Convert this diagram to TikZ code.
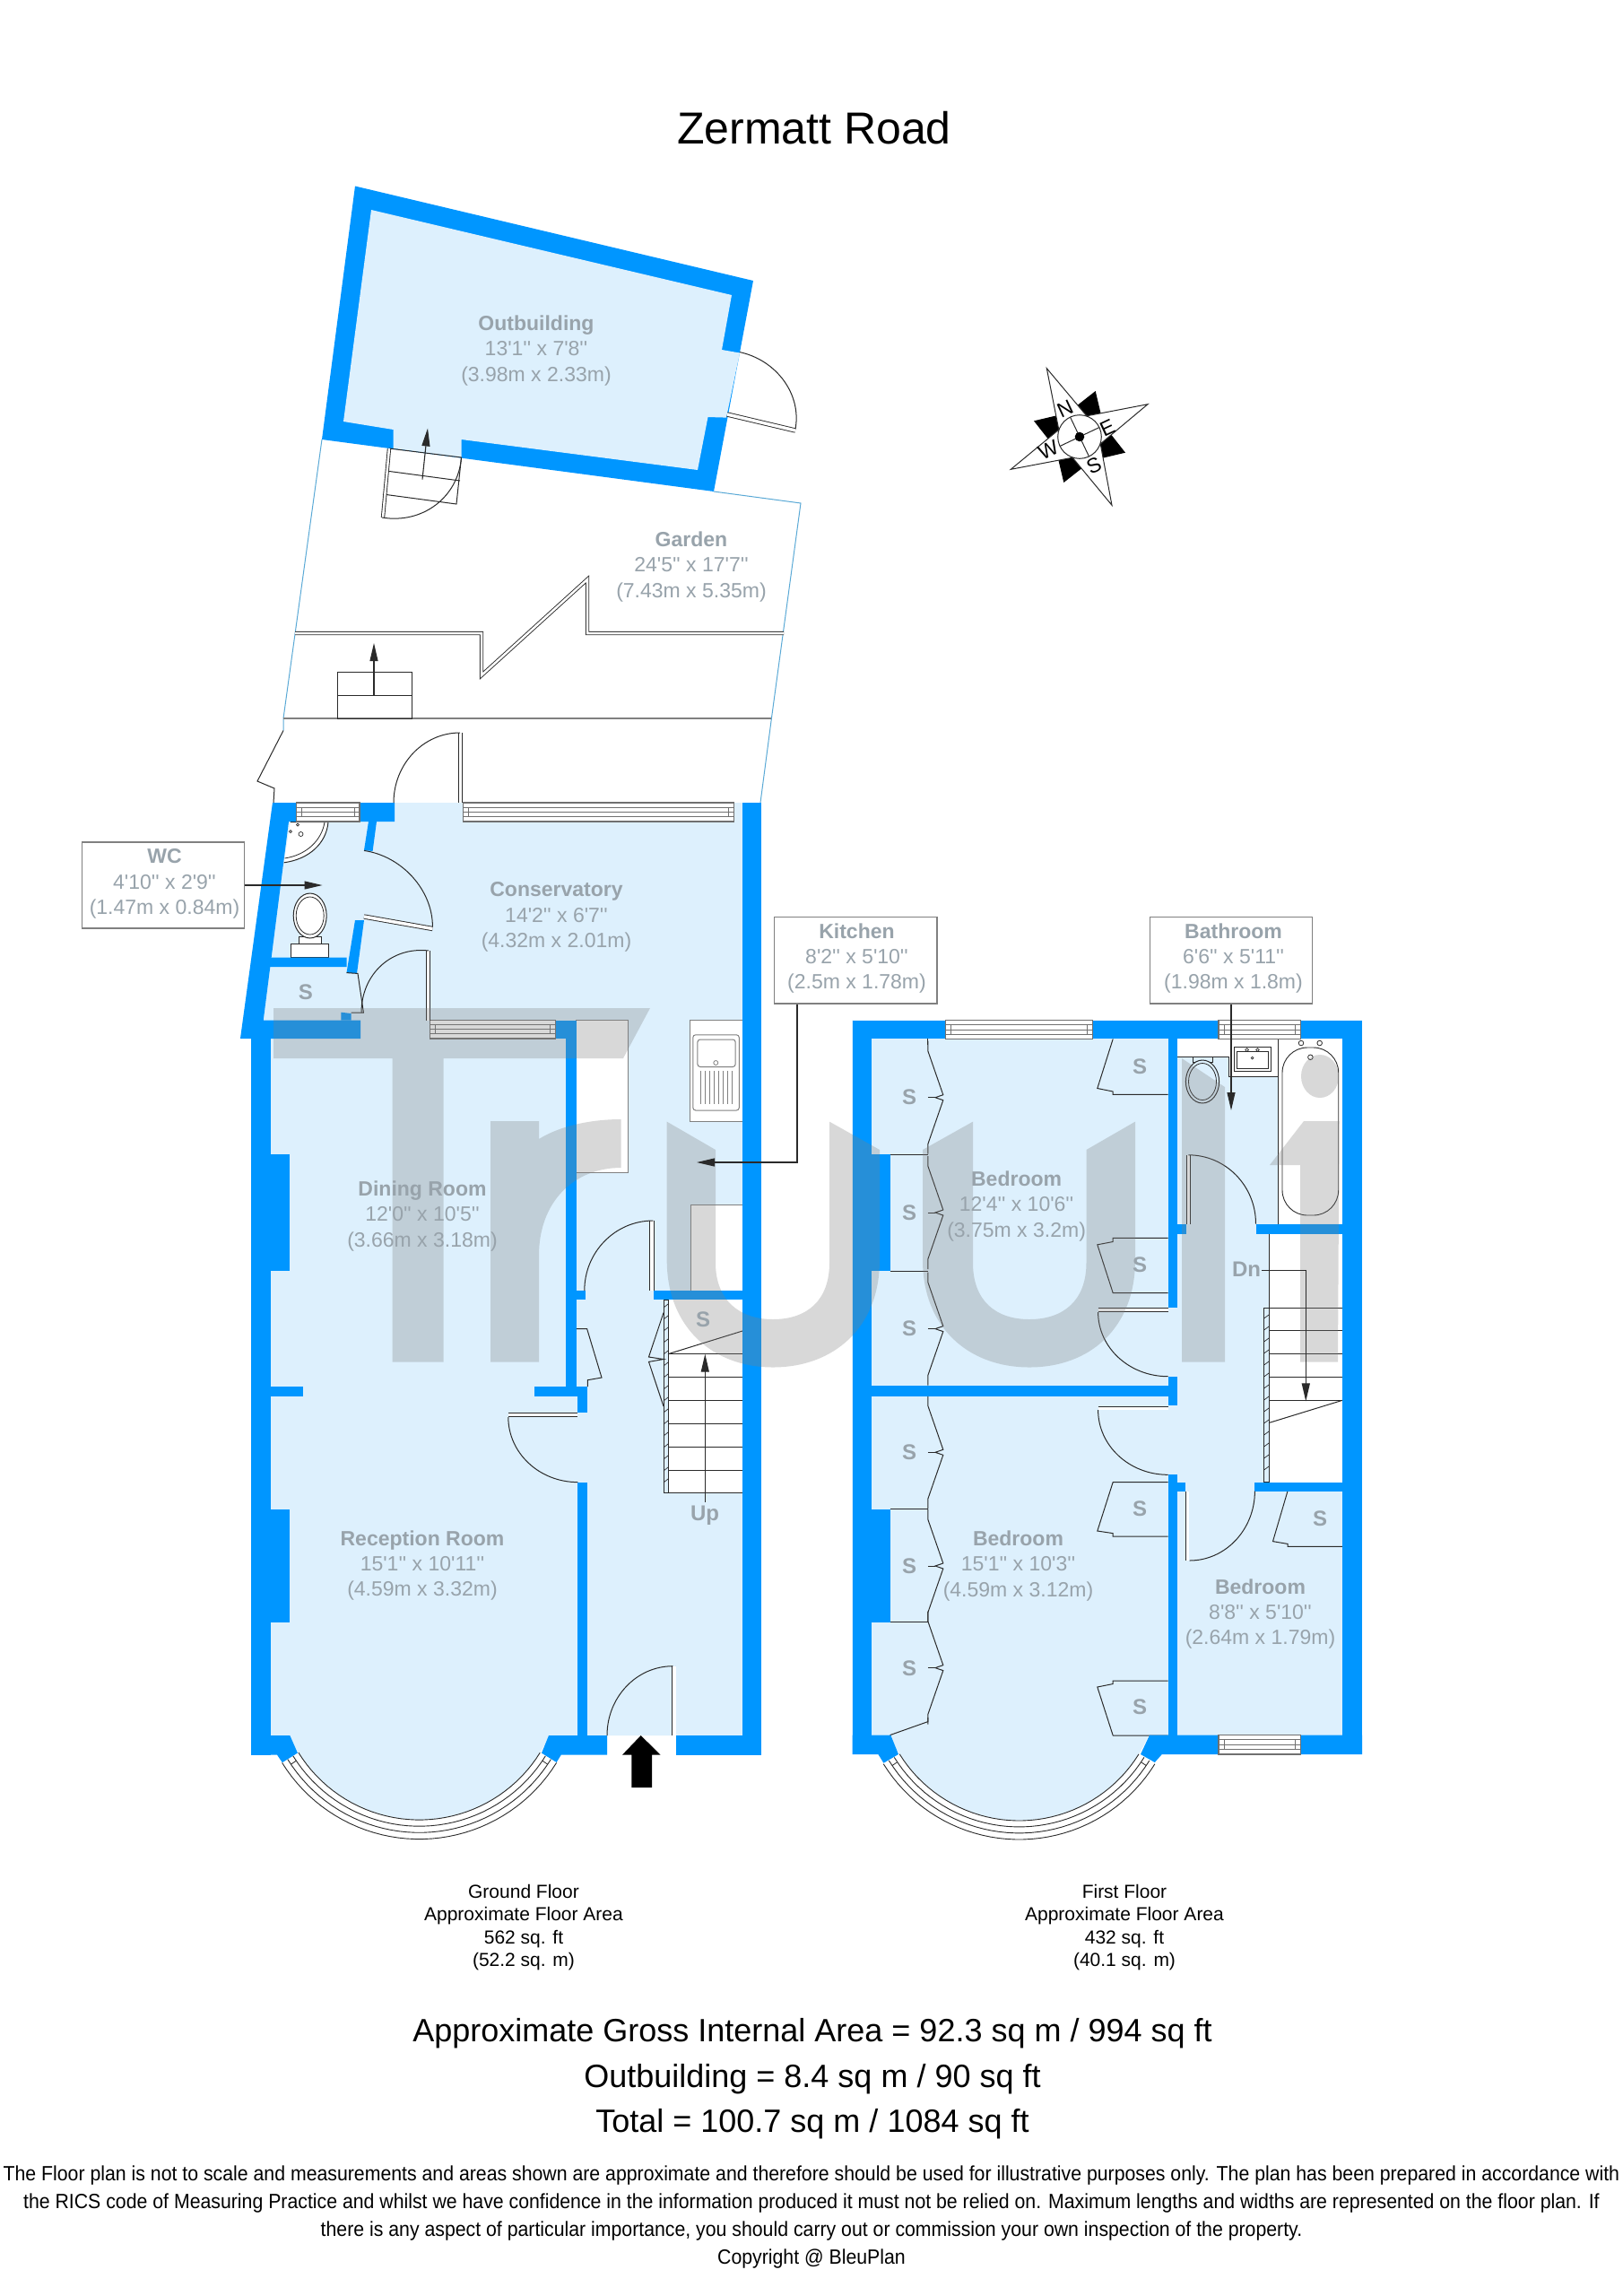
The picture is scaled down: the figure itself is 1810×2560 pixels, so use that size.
\documentclass[tikz,border=0pt]{standalone}
\usepackage{fontspec}
\setmainfont{Liberation Sans}[Ligatures=TeXOff]
\usetikzlibrary{arrows.meta,calc}
\definecolor{wallblue}{HTML}{0096FF}
\definecolor{floorblue}{HTML}{DDF0FD}
\definecolor{labelgrey}{HTML}{98A3AB}
\definecolor{linedark}{HTML}{2A2A2A}
\definecolor{boxgrey}{HTML}{808080}
\definecolor{wingrey}{HTML}{707070}
\definecolor{gardenline}{HTML}{5AA9D6}
\tikzset{
  wall/.style={fill=wallblue},
  floorarea/.style={fill=floorblue},
  fine/.style={draw=linedark,line width=1pt},
  leaf/.style={draw=linedark,line width=0.9pt,double=white,double distance=3.5pt},
  garden/.style={draw=gardenline,line width=1pt},
  fixture/.style={fill=white,draw=boxgrey,line width=1pt},
  conn/.style={draw=linedark,line width=1.1pt,-{Triangle[length=20pt,width=9pt]}},
  roomtext/.style={text=labelgrey,align=center,font=\fontsize{23}{28.4}\selectfont,inner sep=0pt},
  lblbox/.style={draw=boxgrey,line width=1.5pt,fill=white,inner sep=0pt},
  stext/.style={text=labelgrey,font=\fontsize{24}{28}\selectfont\bfseries,inner sep=0pt},
  blacktext/.style={text=black,align=center,inner sep=0pt},
  brand/.style={fill=gray,fill opacity=0.3}
}
\newcommand{\dArc}[6]{\draw[fine] (#3,#4) .. controls ({#3+0.5523*(#5-#1)},{#4+0.5523*(#6-#2)}) and ({#5+0.5523*(#3-#1)},{#6+0.5523*(#4-#2)}) .. (#5,#6);}
\newcommand{\hWin}[4]{%
  \fill[white] (#1,#3) rectangle (#2,#4);
  \draw[draw=wingrey,line width=1.1pt] (#1,#3) rectangle (#2,#4);
  \foreach \ff in {0.25,0.5,0.75}{\draw[draw=wingrey,line width=1pt] (#1,{#3+\ff*(#4-#3)}) -- (#2,{#3+\ff*(#4-#3)});}
  \draw[draw=wingrey,line width=1pt] ({#1+6},{#3+0.25*(#4-#3)}) -- ({#1+6},{#3+0.75*(#4-#3)});
  \draw[draw=wingrey,line width=1pt] ({#2-6},{#3+0.25*(#4-#3)}) -- ({#2-6},{#3+0.75*(#4-#3)});
}
\newcommand{\roomLabel}[6]{\node[roomtext] (#1) at (#2,#3) {\textbf{#4}\\#5\\#6};}
\newcommand{\wardrobe}[1]{%
  \draw[fine] (1034.8,{#1-63}) -- (1034.8,{#1-52}) -- (1051.8,{#1-3}) -- (1043,{#1}) -- (1051.8,{#1+3}) -- (1034.8,{#1+52}) -- (1034.8,{#1+63});
  \draw[fine] (1034.8,{#1}) -- (1043,{#1});
}
\newcommand{\bayWin}[4]{% cx cy rin rout
  \fill[white] plot[domain=31.8:148.2,samples=40] ({#1+#4*cos(\x)},{#2+#4*sin(\x)}) -- plot[domain=148.2:31.8,samples=40] ({#1+#3*cos(\x)},{#2+#3*sin(\x)}) -- cycle;
  \foreach \rr in {0,0.33,0.66,1}{
    \draw[fine,line width=0.9pt] plot[domain=31.8:148.2,samples=40] ({#1+(#3+\rr*(#4-#3))*cos(\x)},{#2+(#3+\rr*(#4-#3))*sin(\x)});
  }
  \foreach \aa in {34,146}{
    \draw[fine,line width=0.8pt] ({#1+(#3+0.33*(#4-#3))*cos(\aa)},{#2+(#3+0.33*(#4-#3))*sin(\aa)}) -- ({#1+(#3+0.66*(#4-#3))*cos(\aa)},{#2+(#3+0.66*(#4-#3))*sin(\aa)});
  }
}
\begin{document}
\begin{tikzpicture}[x=1pt,y=-1pt]
\useasboundingbox (0,0) rectangle (1810,2560);
\fill[white] (0,0) rectangle (1810,2560);

% ---------- Garden
\draw[garden] (359,490) -- (316,801) -- (316,814.5);
\draw[fine] (316,814.5) -- (287,871) -- (306,879) -- (305,895);
\draw[garden] (796,548) -- (893,561) -- (860.4,801) -- (848,895);
\draw[draw=linedark,line width=0.9pt,double=white,double distance=2.5pt] (329,706) -- (537,706) -- (537,753) -- (655,646) -- (655,706) -- (874,706);
\draw[draw=boxgrey,line width=2pt] (316,801) -- (860.4,801);
\draw[fine] (376,749) rectangle (459,801);
\draw[fine] (376,775) -- (459,775);
\coordinate (gardenA) at (417,775);
\coordinate (gardenB) at (417,717);
\draw[conn] (gardenA) -- (gardenB);

% ---------- Outbuilding
\fill[wall] (396,207.5) -- (840,313) -- (796,548) -- (359,490) -- cycle;
\fill[floorblue] (414,234) -- (816,329) -- (805,390) -- (825,393.5) -- (810,465.6) -- (789.5,465) -- (778,524) -- (514.5,490) -- (514.5,510) -- (438.6,500) -- (438.6,479) -- (383,470) -- cycle;
\draw[leaf] (811,462) -- (887,480);
\dArc{812}{462}{887}{478.4}{825}{392.6}
\draw[fine] (434,500) -- (514.5,510) -- (509,562) -- (427,551);
\draw[fine] (430.5,525) -- (513,536);
\draw[leaf,double distance=2.5pt] (434,500) -- (427,577);
\dArc{433}{497}{514.5}{510.6}{426}{577}
\coordinate (outA) at (471,534.5);
\coordinate (outB) at (477,477.5);
\draw[conn] (outA) -- (outB);

% ---------- Ground floor: floor
\fill[floorblue] (304,895) -- (848,895) -- (848,1935) -- (612,1935) -- plot[domain=24:156,samples=50] ({467.6+158.5*cos(\x)},{1870.6+158.5*sin(\x)}) -- (301,1935) -- (301,1158) -- (268,1158) -- cycle;
% fixtures
\draw[fixture] (642.6,1137.7) rectangle (700.3,1307);
\draw[fixture] (769,1137.7) rectangle (828,1250.6);
\draw[draw=boxgrey,line width=1pt,rounded corners=3pt] (772.8,1153.8) rectangle (824.3,1238);
\draw[draw=boxgrey,line width=1pt,rounded corners=3pt] (777.9,1159) rectangle (820.2,1189.5);
\draw[draw=boxgrey,line width=0.8pt] (798.3,1185) circle (2.5);
\foreach \xx in {781,786,...,818}{\draw[draw=boxgrey,line width=0.8pt] (\xx,1194) -- (\xx,1230.5);}
\draw[fixture] (770.2,1343.5) rectangle (828,1439);
% stairs ground
\fill[white] (745,1449) rectangle (828,1664.8);
\draw[fine] (745,1509.7) -- (828,1484);
\foreach \yy in {1509.7,1535.3,1561.5,1587.2,1613,1639,1664.8}{\draw[fine] (745,\yy) -- (828,\yy);}
\draw[fine] (740,1449) rectangle (745,1664.8);
\foreach \yy in {1458,1471,...,1660}{\draw[fine,line width=0.7pt] (740,\yy) -- (745,{\yy-4});}
\draw[fine] (740,1463.6) -- (723.5,1513) -- (740,1515.5) -- (723.5,1518.4) -- (740,1568);
\coordinate (upA) at (786.3,1674.5);
\coordinate (upB) at (786.3,1509.7);
\draw[conn] (upA) -- (upB);
% WC fixtures
\fill[white] (323.8,916.7) -- (366,916.7) .. controls (364,940) and (345,958) .. (316.6,961.8) -- cycle;
\draw[fine] (323.8,916.7) -- (366,916.7) .. controls (364,940) and (345,958) .. (316.6,961.8);
\draw[fine,line width=0.8pt] (362,916.7) .. controls (359,936) and (343,953) .. (317.5,957);
\draw[fine,line width=0.7pt] (335.5,930) circle (2.5);
\draw[fine,line width=0.7pt] (332,919.5) circle (1.5);
\draw[fine,line width=0.7pt] (324,927) circle (1.5);
\draw[fixture,draw=linedark] (333,1044) rectangle (358.5,1052);
\draw[fixture,draw=linedark] (324.3,1052) rectangle (366.6,1067.6);
\draw[fine,fill=white] (345.7,1021) ellipse [x radius=18.5,y radius=25];
\draw[fine,line width=0.8pt] (345.7,1021) ellipse [x radius=15.5,y radius=21];

% ---------- Ground floor: walls
\fill[wall] (304,895) -- (440,895) -- (440,916) -- (322,916) -- (293.7,1137.7) -- (402,1137.7) -- (402,1158) -- (268,1158) -- cycle;
\fill[wall] (301,1067.6) -- (386.5,1067.6) -- (386.5,1078) -- (300,1078) -- cycle;
\fill[wall] (411,916) -- (420,916) -- (415.6,949) -- (406,948) -- cycle;
\fill[wall] (396,1026) -- (406,1026) -- (398,1085.4) -- (386.5,1084.6) -- cycle;
\fill[wall] (380.4,1128.7) -- (391.6,1130) -- (391.6,1137.7) -- (380.4,1137.7) -- cycle;
\fill[wall] (619.7,1137.7) rectangle (642.6,1158);
\fill[wall] (631.4,1137.7) rectangle (642.8,1556.7);
\fill[wall] (280.4,1158) rectangle (301.5,1956.6);
\fill[wall] (301,1287) rectangle (322.6,1417);
\fill[wall] (301,1682.7) rectangle (322.6,1809);
\fill[wall] (301.5,1546) rectangle (338,1556.7);
\fill[wall] (827.5,895) rectangle (848.5,1956.6);
\fill[wall] (729.4,1439) rectangle (828,1449);
\fill[wall] (642.6,1439) rectangle (653,1449);
\fill[wall] (596,1546) rectangle (655.4,1556.7);
\fill[wall] (644.3,1546) rectangle (655.4,1575);
\fill[wall] (644.3,1652.6) rectangle (655.4,1935);
\fill[wall] (280.6,1935) -- (323.3,1935) -- (332,1954.6) -- (315.4,1966) -- (309,1956.6) -- (280.6,1956.6) -- cycle;
\fill[wall] (612,1935) -- (677,1935) -- (677,1956.6) -- (625.8,1956.6) -- (620.6,1965) -- (604,1954.6) -- cycle;
\fill[wall] (754.3,1935) rectangle (848.5,1956.6);
\bayWin{467.6}{1870.6}{158.5}{180}
\hWin{330.4}{401}{895}{916}
\hWin{516.6}{818.7}{895}{916}
\hWin{479.4}{619.7}{1137.7}{1158}
% doors ground
\draw[leaf] (513.6,817) -- (513.6,895);
\dArc{513}{895}{513}{817}{439}{895}
\draw[leaf] (406,1022) -- (482.4,1035.5);
\dArc{406}{1022}{406}{948.4}{482.4}{1033}
\draw[leaf] (477.7,1060) -- (477.7,1137.7);
\dArc{478}{1137.7}{478}{1060}{403}{1129}
\draw[fine] (386.5,1084.6) -- (399,1085.4) -- (405.4,1129) -- (391.6,1129);
\draw[leaf] (727,1361) -- (727,1439);
\dArc{728.4}{1439}{728.4}{1361}{651.8}{1439}
\draw[fine] (642.8,1481.5) -- (654.6,1481.5) -- (671,1536) -- (655.4,1538.7) -- (655.4,1546);
\draw[leaf,double distance=3pt] (566.8,1577.5) -- (644.3,1577.5);
\dArc{644.3}{1580}{566.8}{1580}{644.3}{1652.6}
\draw[leaf,double distance=3.8pt] (751.6,1857.7) -- (751.6,1935);
\dArc{750.3}{1935}{750.3}{1857.7}{677}{1935}
\fill[black] (714.7,1935) -- (736.5,1956.6) -- (727,1956.6) -- (727,1993) -- (704.4,1993) -- (704.4,1956.6) -- (694,1956.6) -- cycle;

% ---------- First floor: floor
\fill[floorblue] (950,1137.6) -- (1519,1137.6) -- (1519,1934.6) -- (1282,1934.6) -- plot[domain=23:157,samples=50] ({1136.6+157*cos(\x)},{1873+157*sin(\x)}) -- (950,1934.6) -- cycle;
% bathroom fixtures
\fill[white] (1312.8,1158.4) -- (1497.4,1158.4) -- (1497.4,1364.5) -- (1425.5,1364.5) -- (1425.5,1200.8) -- (1370,1200.8) -- (1370,1178.4) -- (1312.8,1178.4) -- cycle;
\draw[fine,line width=0.8pt] (1312.8,1178.4) -- (1370,1178.4) -- (1370,1200.8) -- (1425.5,1200.8) -- (1425.5,1364.5);
\draw[fine,line width=0.8pt] (1425.5,1158.4) -- (1425.5,1200.8);
\draw[fine,line width=0.8pt] (1376.8,1167.3) rectangle (1417.6,1194.7);
\draw[fine,line width=0.8pt] (1379.5,1172.6) rectangle (1414.4,1191);
\foreach \xx in {1390.6,1402.5}{\draw[fine,line width=0.7pt] (\xx,1170.6) circle (1.8);}
\draw[fine,line width=0.7pt] (1396.6,1179.6) circle (1.3);
\draw[fine,line width=0.9pt,rounded corners=28pt] (1430,1168) rectangle (1492.7,1355);
\foreach \xx in {1451,1471.7}{\draw[fine,line width=0.8pt,fill=white] (\xx,1163) circle (2.8);}
\draw[fine,line width=0.8pt,fill=white] (1461.4,1178.8) circle (2.8);
\draw[fine,fill=floorblue] (1330,1178.4) rectangle (1352,1184.5);
\draw[fine,fill=floorblue] (1341,1206) ellipse [x radius=18.6,y radius=24];
\draw[fine,line width=0.8pt] (1341,1206) ellipse [x radius=15.5,y radius=20.5];
% stairs first
\fill[white] (1415,1375.5) rectangle (1497.4,1652.5);
\draw[fine] (1415,1375.5) -- (1415,1458);
\foreach \yy in {1458,1483.7,1509.4,1535.5,1561.2}{\draw[fine,line width=0.9pt] (1415,\yy) -- (1497.4,\yy);}
\draw[fine] (1415,1586.5) -- (1497.4,1561.2);
\draw[fine] (1409.6,1458) rectangle (1415,1652.5);
\foreach \yy in {1470,1483,...,1650}{\draw[fine,line width=0.7pt] (1409.6,\yy) -- (1415,{\yy-4});}
% wardrobes
\draw[fine,line width=0.8pt] (992.5,1287.7) -- (1034.8,1287.7);
\draw[fine,line width=0.8pt] (992.5,1417) -- (1034.8,1417);
\draw[fine,line width=0.8pt] (992.5,1682) -- (1034.8,1682);
\draw[fine,line width=0.8pt] (992.5,1808.6) -- (1034.8,1808.6);
\wardrobe{1223.7}
\wardrobe{1352}
\wardrobe{1481.6}
\wardrobe{1619.3}
\wardrobe{1746}
\wardrobe{1859.6}
\draw[fine] (1034.8,1158.4) -- (1034.8,1165);
\draw[fine] (1034.8,1915) -- (1034.8,1919.6) -- (992.5,1934.6);
% closets
\draw[fine] (1241.2,1158.4) -- (1223.8,1213.5) -- (1241.2,1217) -- (1241.2,1220.4) -- (1302.5,1220.4);
\draw[fine] (1302.5,1380.4) -- (1241.2,1380.4) -- (1241.2,1384.5) -- (1223.8,1387.8) -- (1241.2,1441.6) -- (1302.5,1441.6);
\draw[fine] (1302.5,1652.5) -- (1241.2,1652.5) -- (1223.8,1707) -- (1241.2,1709.6) -- (1241.2,1713.2) -- (1302.5,1713.2);
\draw[fine] (1302.5,1874) -- (1241.2,1874) -- (1241.2,1877.5) -- (1223.8,1881) -- (1241.2,1935) -- (1302.5,1935);
\draw[fine] (1436,1662.5) -- (1419.5,1718.6) -- (1436,1721.4) -- (1436,1724.3) -- (1497.4,1724.3);

% ---------- First floor: walls
\fill[wall] (950.6,1137.6) rectangle (971.5,1956);
\fill[wall] (950.6,1137.6) rectangle (1519,1158.4);
\fill[wall] (1497.4,1137.6) rectangle (1519,1956);
\fill[wall] (971,1287) rectangle (992.5,1417);
\fill[wall] (971,1683) rectangle (992.5,1808.6);
\fill[wall] (950.6,1934.6) -- (993.3,1934.6) -- (1002,1956) -- (985.4,1965.7) -- (979.4,1956) -- (950.6,1956) -- cycle;
\fill[wall] (1282,1934.6) -- (1519,1934.6) -- (1519,1956) -- (1295.8,1956) -- (1287.8,1965) -- (1272,1956) -- cycle;
\fill[wall] (1302.5,1158.4) rectangle (1312.8,1458);
\fill[wall] (1312.8,1364.5) rectangle (1323.4,1375.5);
\fill[wall] (1400.5,1364.5) rectangle (1497.4,1375.5);
\fill[wall] (971.5,1545) rectangle (1302.5,1557);
\fill[wall] (1302.5,1534.7) rectangle (1312.8,1567.3);
\fill[wall] (1302.5,1644.3) rectangle (1312.8,1934.6);
\fill[wall] (1312.8,1652.5) rectangle (1321.5,1662.5);
\fill[wall] (1398.6,1652.5) rectangle (1497.4,1662.5);
\bayWin{1136.6}{1873}{157}{178}
\hWin{1054.6}{1218.7}{1137.6}{1158.4}
\hWin{1359}{1450.8}{1137.6}{1158.4}
\hWin{1359}{1450.8}{1934.6}{1956}
% doors first
\draw[leaf,double distance=3pt] (1224.6,1460.5) -- (1302.5,1460.5);
\dArc{1302.5}{1463}{1224.6}{1463}{1302.5}{1534.7}
\draw[leaf,double distance=3pt] (1224.6,1570) -- (1302.5,1570);
\dArc{1302.5}{1572}{1224.6}{1572}{1302.5}{1644.3}
\draw[leaf,double distance=3pt] (1324,1662.5) -- (1324,1740);
\dArc{1326.6}{1662.5}{1326.6}{1740}{1399.4}{1662.5}
\draw[leaf,double distance=3pt] (1325.7,1287.8) -- (1325.7,1364.5);
\dArc{1325.4}{1364.5}{1325.4}{1287.8}{1400.5}{1364.5}

% ---------- Watermark
\fill[brand] (305,1124) -- (725,1124) -- (695,1180) -- (494.7,1180) -- (494.7,1518.5) -- (437.6,1518.5) -- (437.6,1180) -- (305,1180) -- cycle;
\fill[brand] (547,1250) -- (601,1250) -- (601,1270) .. controls (625,1255) and (660,1248) .. (692.7,1248) -- (692.7,1302) .. controls (640,1302) and (601,1340) .. (601,1400) -- (601,1518.5) -- (547,1518.5) -- cycle;
\fill[brand] (743.7,1250.6) -- (798,1282) -- (798,1408) .. controls (798,1450) and (825,1471) .. (862,1471) .. controls (900,1471) and (925,1450) .. (925,1408) -- (925,1250.6) -- (981,1282) -- (981,1405) .. controls (981,1480) and (930,1524.5) .. (862,1524.5) .. controls (795,1524.5) and (743.7,1480) .. (743.7,1405) -- cycle;
\fill[brand] (1029,1282) -- (1085,1250.6) -- (1085,1408) .. controls (1085,1450) and (1110,1471) .. (1148,1471) .. controls (1186,1471) and (1211.5,1450) .. (1211.5,1408) -- (1211.5,1282) -- (1266,1250.6) -- (1266,1405) .. controls (1266,1480) and (1216,1524.5) .. (1148,1524.5) .. controls (1080,1524.5) and (1029,1480) .. (1029,1405) -- cycle;
\fill[brand] (1318,1180) -- (1366,1212) -- (1366,1518.5) -- (1318,1518.5) -- cycle;
\fill[brand] (1472,1200) ellipse [x radius=21,y radius=24];
\fill[brand] (1416,1299) -- (1454,1250) -- (1493.5,1250) -- (1492,1518.5) -- (1450,1518.5) -- (1450,1299) -- cycle;

% ---------- Labels
\roomLabel{outbuilding}{598}{391}{Outbuilding}{13'1'' x 7'8''}{(3.98m x 2.33m)}
\roomLabel{gardenlbl}{771}{632}{Garden}{24'5'' x 17'7''}{(7.43m x 5.35m)}
\roomLabel{conservatory}{620.5}{1022.4}{Conservatory}{14'2'' x 6'7''}{(4.32m x 2.01m)}
\roomLabel{dining}{471}{1356}{Dining Room}{12'0'' x 10'5''}{(3.66m x 3.18m)}
\roomLabel{reception}{471}{1745.5}{Reception Room}{15'1'' x 10'11''}{(4.59m x 3.32m)}
\roomLabel{bedA}{1133.6}{1345}{Bedroom}{12'4'' x 10'6''}{(3.75m x 3.2m)}
\roomLabel{bedB}{1135.5}{1746}{Bedroom}{15'1'' x 10'3''}{(4.59m x 3.12m)}
\roomLabel{bedC}{1405.5}{1799.6}{Bedroom}{8'8'' x 5'10''}{(2.64m x 1.79m)}

\node[lblbox,minimum width=180.6pt,minimum height=96pt] (wcbox) at (182,987) {};
\node[roomtext] (wctext) at (183.5,985.5) {\textbf{WC}\\4'10'' x 2'9''\\(1.47m x 0.84m)};
\coordinate (wcT) at (359.5,987);
\draw[conn] (wcbox) -- (wcT);
\node[lblbox,minimum width=181.5pt,minimum height=96.6pt] (kitbox) at (954,1070.7) {};
\node[roomtext] (kittext) at (955.5,1068.5) {\textbf{Kitchen}\\8'2'' x 5'10''\\(2.5m x 1.78m)};
\coordinate (kitElbow) at (889,1296);
\coordinate (kitT) at (777,1296);
\draw[conn] (kitbox.south -| kitElbow) -- (kitElbow) -- (kitT);
\node[lblbox,minimum width=181.1pt,minimum height=96.6pt] (bathbox) at (1373,1070.7) {};
\node[roomtext] (bathtext) at (1375.5,1068.5) {\textbf{Bathroom}\\6'6'' x 5'11''\\(1.98m x 1.8m)};
\coordinate (bathT) at (1373,1238);
\draw[conn] (bathbox) -- (bathT);

\node[stext] (sA) at (341,1106) {S};
\node[stext] (sB) at (784,1471) {S};
\node[stext] (sC) at (1014,1223.3) {S};
\node[stext] (sD) at (1014,1352) {S};
\node[stext] (sE) at (1014,1481.6) {S};
\node[stext] (sF) at (1271,1189) {S};
\node[stext] (sG) at (1271,1410) {S};
\node[stext] (sH) at (1014,1619.3) {S};
\node[stext] (sI) at (1014,1746.4) {S};
\node[stext] (sJ) at (1014,1860.4) {S};
\node[stext] (sK) at (1271,1681.8) {S};
\node[stext] (sL) at (1271,1903) {S};
\node[stext] (sM) at (1472,1693) {S};
\node[stext] (uplbl) at (786,1689.6) {Up};
\node[stext] (dnlbl) at (1390,1415.5) {Dn};
\coordinate (dnElbow) at (1456.3,1416.7);
\coordinate (dnT) at (1456.3,1562.4);
\draw[conn] (dnlbl) ++(17,1.2) -- (dnElbow) -- (dnT);

% ---------- Compass
\coordinate (compC) at (1204,487);
\fill[black] (1221.7,436) -- (1201.7,451.7) -- (compC) -- (1228,462.7) -- cycle;
\fill[black] (1255,504.7) -- (1239.3,484.7) -- (compC) -- (1228.3,511) -- cycle;
\fill[black] (1186.3,538) -- (1206.3,522.3) -- (compC) -- (1180,511.3) -- cycle;
\fill[black] (1153,469.3) -- (1168.7,489.3) -- (compC) -- (1179.7,463) -- cycle;
\draw[fine,fill=white,line width=1pt] (1167.3,410.7) -- (1211.9,463.8) -- (1280,450.7) -- (1227.2,494.9) -- (1240,563.3) -- (1196.1,510.2) -- (1127.3,523.3) -- (1180.8,479.1) -- cycle;
\draw[fine,fill=white] (compC) circle (24.3);
\draw[fine] ($(compC)+(-10.5,-22)$) -- ($(compC)+(10.5,22)$);
\draw[fine] ($(compC)+(-22,10.5)$) -- ($(compC)+(22,-10.5)$);
\fill[black] (compC) circle (5.3);
\node[inner sep=0pt,rotate=25,font=\fontsize{23}{23}\selectfont] (compN) at (1187.7,455.7) {N};
\node[inner sep=0pt,rotate=25,font=\fontsize{23}{23}\selectfont] (compE) at (1235,476.7) {E};
\node[inner sep=0pt,rotate=25,font=\fontsize{23}{23}\selectfont] (compS) at (1220,519.3) {S};
\node[inner sep=0pt,rotate=25,font=\fontsize{23}{23}\selectfont] (compW) at (1169,501.7) {W};

% ---------- Texts
\node[blacktext,font=\fontsize{50}{60}\selectfont] (title) at (908,143) {Zermatt Road};
\node[blacktext,font=\fontsize{21}{25.3}\selectfont] (groundnote) at (584,2149) {Ground Floor\\Approximate Floor Area\\562 sq. ft\\(52.2 sq. m)};
\node[blacktext,font=\fontsize{21}{25.3}\selectfont] (firstnote) at (1254,2149) {First Floor\\Approximate Floor Area\\432 sq. ft\\(40.1 sq. m)};
\node[blacktext,font=\fontsize{36}{50.5}\selectfont] (areas) at (906,2318) {Approximate Gross Internal Area = 92.3 sq m / 994 sq ft\\Outbuilding = 8.4 sq m / 90 sq ft\\Total = 100.7 sq m / 1084 sq ft};
\node[blacktext,font=\fontsize{23}{31}\selectfont] (discA) at (905,2426) {\scalebox{0.925}[1]{The Floor plan is not to scale and measurements and areas shown are approximate and therefore should be used for illustrative purposes only. The plan has been prepared in accordance with}};
\node[blacktext,font=\fontsize{23}{31}\selectfont] (discB) at (905,2457) {\scalebox{0.925}[1]{the RICS code of Measuring Practice and whilst we have confidence in the information produced it must not be relied on. Maximum lengths and widths are represented on the floor plan. If}};
\node[blacktext,font=\fontsize{23}{31}\selectfont] (discC) at (905,2488) {\scalebox{0.925}[1]{there is any aspect of particular importance, you should carry out or commission your own inspection of the property.}};
\node[blacktext,font=\fontsize{23}{31}\selectfont] (discD) at (905,2519) {\scalebox{0.925}[1]{Copyright @ BleuPlan}};
\end{tikzpicture}
\end{document}
